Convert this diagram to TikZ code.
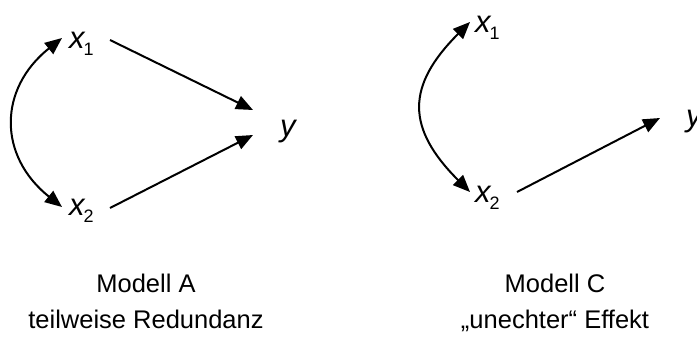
\documentclass[tikz,border=0pt]{standalone}
\usepackage{fontspec}
\setmainfont{Liberation Sans}
\usetikzlibrary{arrows.meta}
\newcommand{\subsc}[1]{\textup{\fontsize{18}{18}\selectfont\raisebox{-7pt}{#1}}}
\begin{document}
\begin{tikzpicture}[x=1pt,y=-1pt,
  bigtip/.tip={Triangle[length=17pt,width=14pt]},
  arr/.style={line width=2pt,-bigtip},
  darr/.style={line width=2pt,bigtip-bigtip},
  var/.style={inner sep=0pt,anchor=base west,font=\fontsize{31}{31}\selectfont\itshape},
  captext/.style={inner sep=0pt,anchor=base,font=\fontsize{25.5}{25.5}\selectfont}]
\useasboundingbox (0,0) rectangle (697,338);
% Modell A
\node[var] (x1A) at (69,48) {x\kern-1pt\subsc{1}};
\node[var] (x2A) at (69,215) {x\kern-1pt\subsc{2}};
\node[var] (yA) at (280,136) {y};
\coordinate (a1s) at (110,40);
\coordinate (a1e) at (253,110);
\coordinate (a2s) at (110,208);
\coordinate (a2e) at (253,135);
\coordinate (cAt) at (62,38);
\coordinate (cAb) at (62,207);
\draw[arr] (a1s) -- (a1e);
\draw[arr] (a2s) -- (a2e);
\draw[darr] (cAt) .. controls (-2,89) and (-2,156) .. (cAb);
\node[captext] (mA) at (146,292) {Modell A};
\node[captext] (tA) at (146,328) {teilweise Redundanz};
% Modell C
\node[var] (x1C) at (475,32) {x\kern-1pt\subsc{1}};
\node[var] (x2C) at (475,202) {x\kern-1pt\subsc{2}};
\node[var] (yC) at (686,126) {y};
\coordinate (c1s) at (517,192);
\coordinate (c1e) at (660,118);
\coordinate (cCt) at (470,22);
\coordinate (cCb) at (470,192);
\draw[arr] (c1s) -- (c1e);
\draw[darr] (cCt) .. controls (406,86) and (406,128) .. (cCb);
\node[captext] (mC) at (555,292) {Modell C};
\node[captext] (tC) at (555,328) {„unechter“ Effekt};
\end{tikzpicture}
\end{document}
